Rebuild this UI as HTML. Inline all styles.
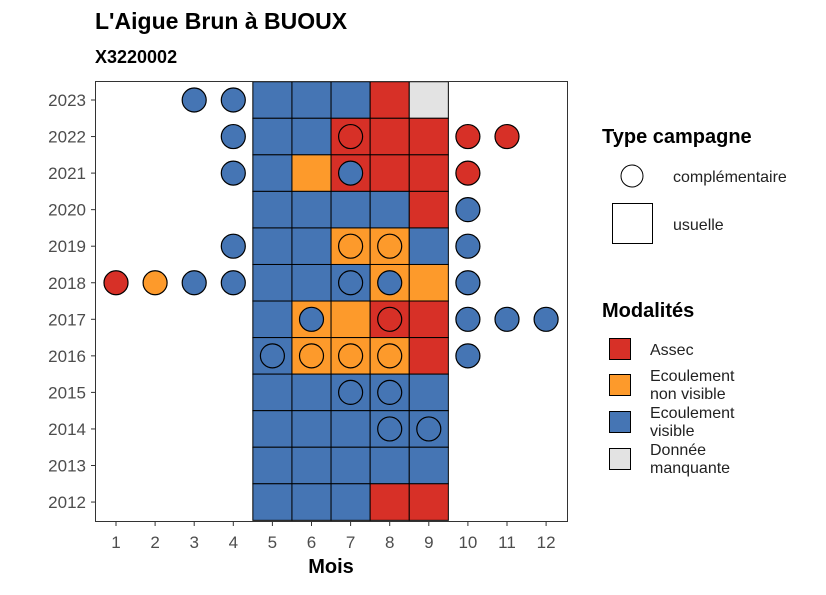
<!DOCTYPE html>
<html><head><meta charset="utf-8"><style>
body{margin:0;background:#fff;font-family:"Liberation Sans",sans-serif}
svg text{font-family:"Liberation Sans",sans-serif}
</style></head><body>
<svg id="chart" width="826" height="590" xmlns="http://www.w3.org/2000/svg">
<text x="95" y="29" font-size="23" font-weight="bold">L'Aigue Brun à BUOUX</text>
<text x="95" y="63" font-size="18" font-weight="bold">X3220002</text>
<g id="tiles"></g><g id="dots"></g>
<rect x="95.5" y="81.5" width="472" height="440" fill="none" stroke="#333" stroke-width="1"/>
<g id="axes"></g>
<text x="331" y="573" font-size="20" font-weight="bold" text-anchor="middle">Mois</text>
<g>
<text x="602" y="143" font-size="20" font-weight="bold">Type campagne</text>
<circle cx="632" cy="176" r="11" fill="#fff" stroke="#000"/>
<text x="673" y="182" font-size="16" fill="#222">complémentaire</text>
<rect x="612.5" y="203.5" width="40" height="40" fill="#fff" stroke="#000"/>
<text x="673" y="230" font-size="16" fill="#222">usuelle</text>
</g>
<g>
<text x="602" y="317" font-size="20" font-weight="bold">Modalités</text>
<rect x="609.5" y="338.5" width="21" height="21" fill="#D73027" stroke="#000"/>
<text x="650" y="355" font-size="16" fill="#222">Assec</text>
<rect x="609.5" y="374.5" width="21" height="21" fill="#FD9A2B" stroke="#000"/>
<text x="650" y="381" font-size="16" fill="#222">Ecoulement</text><text x="650" y="399" font-size="16" fill="#222">non visible</text>
<rect x="609.5" y="411.5" width="21" height="21" fill="#4575B4" stroke="#000"/>
<text x="650" y="418" font-size="16" fill="#222">Ecoulement</text><text x="650" y="436" font-size="16" fill="#222">visible</text>
<rect x="609.5" y="448.5" width="21" height="21" fill="#E3E3E3" stroke="#000"/>
<text x="650" y="455" font-size="16" fill="#222">Donnée</text><text x="650" y="473" font-size="16" fill="#222">manquante</text>
</g>
</svg>
<script>
const years=[2023,2022,2021,2020,2019,2018,2017,2016,2015,2014,2013,2012];
const months=[1,2,3,4,5,6,7,8,9,10,11,12];
const tileMonths=[5,6,7,8,9];
// tile codes: A=Assec, O=Ecoulement non visible, V=Ecoulement visible, M=Donnée manquante
const tile2023=["V","V","V","A","M"];
const tile2022=["V","V","A","A","A"];
const tile2021=["V","O","A","A","A"];
const tile2020=["V","V","V","V","A"];
const tile2019=["V","V","O","O","V"];
const tile2018=["V","V","V","O","O"];
const tile2017=["V","O","O","A","A"];
const tile2016=["V","O","O","O","A"];
const tile2015=["V","V","V","V","V"];
const tile2014=["V","V","V","V","V"];
const tile2013=["V","V","V","V","V"];
const tile2012=["V","V","V","A","A"];
const tileRows=[tile2023,tile2022,tile2021,tile2020,tile2019,tile2018,tile2017,tile2016,tile2015,tile2014,tile2013,tile2012];
const dotYears=[2023,2023,2022,2022,2022,2022,2021,2021,2021,2020,2019,2019,2019,2019,2018,2018,2018,2018,2018,2018,2018,2017,2017,2017,2017,2017,2016,2016,2016,2016,2016,2015,2015,2014,2014];
const dotMonths=[3,4,4,7,10,11,4,7,10,10,4,7,8,10,1,2,3,4,7,8,10,6,8,10,11,12,5,6,7,8,10,7,8,8,9];
const dotCodes=["V","V","V","A","A","A","V","V","A","V","V","O","O","V","A","O","V","V","V","V","V","V","A","V","V","V","V","O","O","O","V","V","V","V","V"];
const colors={A:"#D73027",O:"#FD9A2B",V:"#4575B4",M:"#E3E3E3"};
const xs=m=>116+(m-1)*39.1;
const ys=y=>100+(2023-y)*36.55;
const NS="http://www.w3.org/2000/svg";
function mk(t,a,p){const e=document.createElementNS(NS,t);for(const k in a)e.setAttribute(k,a[k]);p.appendChild(e);return e;}
const tg=document.getElementById('tiles');
years.forEach((y,i)=>{tileRows[i].forEach((c,j)=>{const m=tileMonths[j];
const r=mk('rect',{x:xs(m)-19.55,y:ys(y)-18.27,width:39.1,height:36.55,fill:colors[c],stroke:"#000","stroke-width":1},tg);

});});
const dg=document.getElementById('dots');
dotYears.forEach((y,i)=>{const c=mk('circle',{cx:xs(dotMonths[i]),cy:ys(y),r:12,fill:colors[dotCodes[i]],stroke:"#000","stroke-width":1.2},dg);

});
const ag=document.getElementById('axes');
years.forEach(y=>{mk('line',{x1:91,x2:95,y1:ys(y),y2:ys(y),stroke:"#333"},ag);
const t=mk('text',{x:86,y:ys(y)+6,"font-size":17,fill:"#4d4d4d","text-anchor":"end"},ag);t.textContent=y;

});
months.forEach(m=>{mk('line',{x1:xs(m),x2:xs(m),y1:522,y2:526,stroke:"#333"},ag);
const t=mk('text',{x:xs(m),y:548,"font-size":17,fill:"#4d4d4d","text-anchor":"middle"},ag);t.textContent=m;

});
</script>
</body></html>
